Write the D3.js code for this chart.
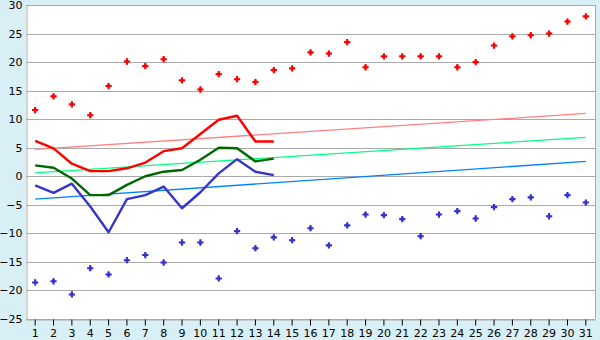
<!DOCTYPE html>
<html>
<head>
<meta charset="utf-8">
<script src="https://cdn.jsdelivr.net/npm/d3@7"></script>
<style>
  body { margin: 0; background: #d9eff6; }
  svg { display: block; }
</style>
</head>
<body>
<script>
// days of the month
var days = d3.range(1, 32);

// record values per day
var recordHigh = [11.6, 14.0, 12.6, 10.7, 15.8, 20.1, 19.3, 20.5, 16.8, 15.2, 17.9, 17.0, 16.5, 18.6, 18.9,
                  21.7, 21.5, 23.5, 19.1, 21.0, 21.0, 21.0, 21.0, 19.1, 20.0, 22.9, 24.5, 24.7, 25.0, 27.1, 28.0];
var recordLow = [-18.6, -18.4, -20.7, -16.1, -17.2, -14.7, -13.8, -15.1, -11.6, -11.6, -17.9, -9.6, -12.6, -10.7, -11.2,
                 -9.1, -12.1, -8.6, -6.7, -6.8, -7.5, -10.5, -6.7, -6.1, -7.4, -5.4, -4.0, -3.7, -7.0, -3.3, -4.6];

// this month so far (days 1..14)
var maxTemp = [6.2, 4.9, 2.2, 0.9, 0.9, 1.4, 2.4, 4.4, 4.9, 7.4, 9.9, 10.6, 6.1, 6.1];
var meanTemp = [1.9, 1.5, -0.4, -3.3, -3.3, -1.5, 0.0, 0.8, 1.1, 2.9, 5.0, 4.9, 2.6, 3.1];
var minTemp = [-1.6, -2.9, -1.3, -5.3, -9.8, -4.0, -3.3, -1.8, -5.6, -2.8, 0.5, 3.0, 0.8, 0.2];

// normals, start of month and end of month
var normalDays = [1, 31];
var normalMax = [4.7, 11.0];
var normalMean = [0.6, 6.8];
var normalMin = [-4.0, 2.6];

var yTicks = [-25, -20, -15, -10, -5, 0, 5, 10, 15, 20, 25, 30];

var w = 600, h = 340;
var plotLeft = 26, plotRight = 595, plotTop = 5, plotBottom = 319;
var font = 'DejaVu Sans, Verdana, sans-serif';

var svg = d3.select('body').append('svg')
    .attr('width', w)
    .attr('height', h);

svg.append('rect')
    .attr('x', plotLeft).attr('y', plotTop)
    .attr('width', plotRight - plotLeft).attr('height', plotBottom - plotTop)
    .attr('fill', '#fff');

var x = d3.scaleBand().domain(days).range([plotLeft, plotRight]);
var y = d3.scaleLinear().domain([-25, 30]).range([plotBottom, plotTop]);
function cx(d) { return x(d) + x.bandwidth() / 2; }

// grid
svg.append('g').selectAll('line')
    .data(yTicks)
    .enter().append('line')
    .attr('x1', plotLeft).attr('x2', plotRight)
    .attr('y1', function(d) { return Math.round(y(d)) + 0.5; })
    .attr('y2', function(d) { return Math.round(y(d)) + 0.5; })
    .attr('stroke', '#aaa');

// y axis
var yAxis = svg.append('g')
    .attr('transform', 'translate(' + (plotLeft + 0.5) + ',0)')
    .call(d3.axisLeft(y).tickValues(yTicks).tickSize(0).tickPadding(4));
yAxis.select('.domain').attr('stroke', '#aaa');
yAxis.selectAll('text').attr('fill', '#000').style('font-family', font).style('font-size', '11px');

// x axis
var xAxis = svg.append('g')
    .attr('transform', 'translate(0,' + (plotBottom + 0.5) + ')')
    .call(d3.axisBottom(x).tickSizeInner(6).tickSizeOuter(0).tickPadding(4));
xAxis.select('.domain').attr('stroke', '#aaa');
xAxis.selectAll('.tick line').attr('stroke', '#000');
xAxis.selectAll('text').attr('fill', '#000').style('font-family', font).style('font-size', '11px');

// right border
svg.append('line')
    .attr('x1', plotRight + 0.5).attr('x2', plotRight + 0.5)
    .attr('y1', plotTop).attr('y2', plotBottom)
    .attr('stroke', '#aaa');

// normals
function normal(vals, color) {
    var pts = normalDays.map(function(d, i) { return [cx(d), y(vals[i])]; });
    svg.append('path')
        .attr('d', d3.line()(pts))
        .attr('fill', 'none')
        .attr('stroke', color)
        .attr('stroke-width', 1.3);
}
normal(normalMax, '#ff8080');
normal(normalMean, '#00ff80');
normal(normalMin, '#0080ff');

// this month
function series(vals, color) {
    var line = d3.line()
        .x(function(d, i) { return cx(days[i]); })
        .y(function(d) { return y(d); });
    svg.append('path')
        .datum(vals)
        .attr('d', line)
        .attr('fill', 'none')
        .attr('stroke', color)
        .attr('stroke-width', 2.4)
        .attr('stroke-linejoin', 'round');
}
series(maxTemp, '#ff0000');
series(meanTemp, '#006800');
series(minTemp, '#3535cc');

// records
function records(vals, color) {
    var g = svg.append('g');
    var pos = function(d, i) { return 'translate(' + cx(days[i]) + ',' + y(d) + ')'; };
    g.selectAll('path.cross')
        .data(vals)
        .enter().append('path')
        .attr('class', 'cross')
        .attr('d', d3.symbol().type(d3.symbolCross).size(22))
        .attr('transform', pos)
        .attr('fill', color);
    g.selectAll('path.dia')
        .data(vals)
        .enter().append('path')
        .attr('class', 'dia')
        .attr('d', d3.symbol().type(d3.symbolDiamond).size(12))
        .attr('transform', pos)
        .attr('fill', color);
}
records(recordHigh, '#ff0000');
records(recordLow, '#3535cc');
</script>
</body>
</html>
